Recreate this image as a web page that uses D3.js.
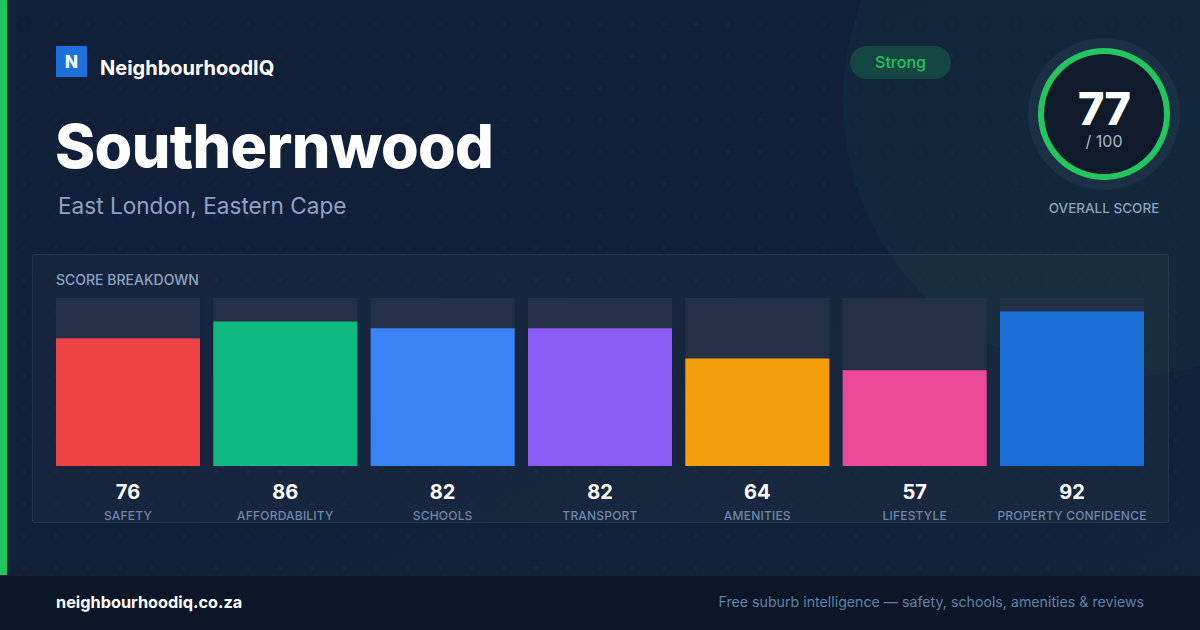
<!DOCTYPE html>
<html><head><meta charset="utf-8">
<script src="https://cdn.jsdelivr.net/npm/d3@7"></script>
<style>html,body{margin:0;padding:0;background:#0b1526;}svg{display:block;font-family:Inter,"Noto Sans",sans-serif;}</style>
</head><body>
<script>
const categories = ["SAFETY","AFFORDABILITY","SCHOOLS","TRANSPORT","AMENITIES","LIFESTYLE","PROPERTY CONFIDENCE"];
const scores = [76,86,82,82,64,57,92];
const barColors = ["#ef4444","#10b981","#3b82f6","#8b5cf6","#f59e0b","#ec4899","#1d6fd8"];
const overallScore = [77];
const overallMax = 100;
const suburb = "Southernwood";
const region = "East London, Eastern Cape";
const rating = "Strong";

const W = 1200, H = 630;
const svg = d3.select("body").append("svg").attr("width", W).attr("height", H);
const defs = svg.append("defs");
const bg = defs.append("linearGradient").attr("id","bg").attr("x1","0").attr("y1","0").attr("x2","1").attr("y2","1");
bg.append("stop").attr("offset","0").attr("stop-color","#111f39");
bg.append("stop").attr("offset","1").attr("stop-color","#12233b");
const pat = defs.append("pattern").attr("id","dots").attr("width",32).attr("height",32).attr("patternUnits","userSpaceOnUse").attr("x",8).attr("y",8);
pat.append("circle").attr("cx",16).attr("cy",16).attr("r",1).attr("fill","rgba(255,255,255,0.05)");

svg.append("rect").attr("width",W).attr("height",H).attr("fill","url(#bg)");
svg.append("rect").attr("width",W).attr("height",575).attr("fill","url(#dots)");
// decorative circle
svg.append("circle").attr("cx",1120).attr("cy",100).attr("r",277).attr("fill","rgba(34,197,94,0.04)");
// left accent
svg.append("rect").attr("x",0).attr("y",0).attr("width",7).attr("height",575).attr("fill","#22c55e");

// logo
svg.append("rect").attr("x",56).attr("y",46).attr("width",31).attr("height",31).attr("fill","#1d6fdc");
svg.append("text").attr("x",71.5).attr("y",68).attr("text-anchor","middle").attr("fill","#fff").attr("font-size",17).attr("font-weight",800).text("N");
svg.append("text").attr("x",100).attr("y",75).attr("fill","#fff").attr("font-size",20).attr("font-weight",700).text("NeighbourhoodIQ");

svg.append("text").attr("x",55).attr("y",168).attr("fill","#fff").attr("font-size",61).attr("font-weight",800).attr("letter-spacing",-0.7).text(suburb);
svg.append("text").attr("x",58).attr("y",214).attr("fill","#8aa4c4").attr("font-size",22.6).text(region);

// badge
svg.append("rect").attr("x",850).attr("y",46).attr("width",101).attr("height",33).attr("rx",16.5).attr("fill","rgba(34,197,94,0.2)");
svg.append("text").attr("x",900.5).attr("y",67.5).attr("text-anchor","middle").attr("fill","#22c55e").attr("font-size",16).attr("font-weight",500).text(rating);

// overall score ring
const cx = 1104, cy = 114;
svg.append("circle").attr("cx",cx).attr("cy",cy).attr("r",76).attr("fill","#1b3045");
svg.append("circle").attr("cx",cx).attr("cy",cy).attr("r",63).attr("fill","#0f1a2b");
const arc = d3.arc().innerRadius(60).outerRadius(66).startAngle(0);
const angle = d3.scaleLinear().domain([0,overallMax]).range([0,2*Math.PI]);
svg.append("path").attr("transform",`translate(${cx},${cy})`).attr("fill","#22c55e")
  .attr("d", arc.endAngle(angle(overallMax))());
svg.append("text").attr("x",cx).attr("y",125).attr("text-anchor","middle").attr("fill","#fff").attr("font-size",45).attr("font-weight",800).attr("letter-spacing",-1).text(overallScore[0]);
svg.append("text").attr("x",cx).attr("y",147).attr("text-anchor","middle").attr("fill","#a9b9cd").attr("font-size",16).text("/ " + overallMax);
svg.append("text").attr("x",cx).attr("y",213).attr("text-anchor","middle").attr("fill","#8aa4c4").attr("font-size",13.5).attr("font-weight",500).text("OVERALL SCORE");

// panel
svg.append("rect").attr("x",32.5).attr("y",254.5).attr("width",1136).attr("height",268).attr("rx",2)
  .attr("fill","rgba(255,255,255,0.025)").attr("stroke","rgba(255,255,255,0.08)");
svg.append("text").attr("x",56).attr("y",285).attr("fill","#8aa4c4").attr("font-size",14).attr("font-weight",500).text("SCORE BREAKDOWN");

const x = d3.scaleBand().domain(categories).range([56,1144]).paddingInner(0.0847).paddingOuter(0);
const y = d3.scaleLinear().domain([0,100]).range([466,298]);

const g = svg.append("g");
const col = g.selectAll("g.col").data(categories).join("g").attr("class","col");
col.append("rect").attr("x",d=>x(d)).attr("y",y(100)).attr("width",x.bandwidth()).attr("height",y(0)-y(100)).attr("fill","#222f46");
col.append("rect").attr("x",d=>x(d)).attr("y",(d,i)=>y(scores[i])).attr("width",x.bandwidth()).attr("height",(d,i)=>y(0)-y(scores[i])).attr("fill",(d,i)=>barColors[i]);
col.append("text").attr("x",d=>x(d)+x.bandwidth()/2).attr("y",499).attr("text-anchor","middle").attr("fill","#fff").attr("font-size",20).attr("font-weight",700).text((d,i)=>scores[i]);
col.append("text").attr("x",d=>x(d)+x.bandwidth()/2).attr("y",520).attr("text-anchor","middle").attr("fill","#6d89aa").attr("font-size",12).attr("font-weight",500).attr("letter-spacing",0.2).text(d=>d);

// footer
svg.append("rect").attr("x",0).attr("y",575).attr("width",W).attr("height",55).attr("fill","#0b1626");
svg.append("line").attr("x1",0).attr("x2",W).attr("y1",575.5).attr("y2",575.5).attr("stroke","rgba(255,255,255,0.05)");
svg.append("text").attr("x",56).attr("y",608).attr("fill","#fff").attr("font-size",16.3).attr("font-weight",700).text("neighbourhoodiq.co.za");
svg.append("text").attr("x",1144).attr("y",607).attr("text-anchor","end").attr("fill","#5d84ab").attr("font-size",14.2).text("Free suburb intelligence — safety, schools, amenities & reviews");
</script>
</body></html>
